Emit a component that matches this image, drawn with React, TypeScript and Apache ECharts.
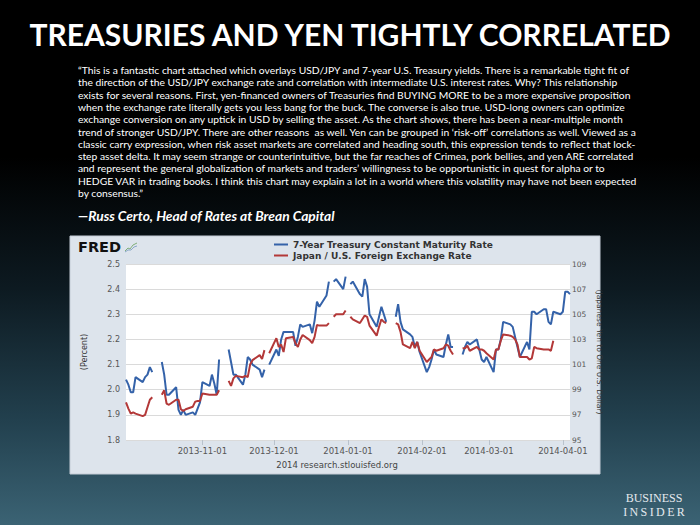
import React, { useEffect, useRef } from 'react';
import * as echarts from 'echarts';

// Business days (holidays kept with null values so the lines break like FRED's)
const dates = [
  '2013-09-30',
  '2013-10-01', '2013-10-02', '2013-10-03', '2013-10-04',
  '2013-10-07', '2013-10-08', '2013-10-09', '2013-10-10', '2013-10-11',
  '2013-10-14', '2013-10-15', '2013-10-16', '2013-10-17', '2013-10-18',
  '2013-10-21', '2013-10-22', '2013-10-23', '2013-10-24', '2013-10-25',
  '2013-10-28', '2013-10-29', '2013-10-30', '2013-10-31',
  '2013-11-01',
  '2013-11-04', '2013-11-05', '2013-11-06', '2013-11-07', '2013-11-08',
  '2013-11-11', '2013-11-12', '2013-11-13', '2013-11-14', '2013-11-15',
  '2013-11-18', '2013-11-19', '2013-11-20', '2013-11-21', '2013-11-22',
  '2013-11-25', '2013-11-26', '2013-11-27', '2013-11-28', '2013-11-29',
  '2013-12-02', '2013-12-03', '2013-12-04', '2013-12-05', '2013-12-06',
  '2013-12-09', '2013-12-10', '2013-12-11', '2013-12-12', '2013-12-13',
  '2013-12-16', '2013-12-17', '2013-12-18', '2013-12-19', '2013-12-20',
  '2013-12-23', '2013-12-24', '2013-12-25', '2013-12-26', '2013-12-27',
  '2013-12-30', '2013-12-31',
  '2014-01-01', '2014-01-02', '2014-01-03',
  '2014-01-06', '2014-01-07', '2014-01-08', '2014-01-09', '2014-01-10',
  '2014-01-13', '2014-01-14', '2014-01-15', '2014-01-16', '2014-01-17',
  '2014-01-20', '2014-01-21', '2014-01-22', '2014-01-23', '2014-01-24',
  '2014-01-27', '2014-01-28', '2014-01-29', '2014-01-30', '2014-01-31',
  '2014-02-03', '2014-02-04', '2014-02-05', '2014-02-06', '2014-02-07',
  '2014-02-10', '2014-02-11', '2014-02-12', '2014-02-13', '2014-02-14',
  '2014-02-17', '2014-02-18', '2014-02-19', '2014-02-20', '2014-02-21',
  '2014-02-24', '2014-02-25', '2014-02-26', '2014-02-27', '2014-02-28',
  '2014-03-03', '2014-03-04', '2014-03-05', '2014-03-06', '2014-03-07',
  '2014-03-10', '2014-03-11', '2014-03-12', '2014-03-13', '2014-03-14',
  '2014-03-17', '2014-03-18', '2014-03-19', '2014-03-20', '2014-03-21',
  '2014-03-24', '2014-03-25', '2014-03-26', '2014-03-27', '2014-03-28',
  '2014-03-31',
  '2014-04-01', '2014-04-02', '2014-04-03', '2014-04-04',
];

// 7-Year Treasury Constant Maturity Rate (percent)
const treasury7y = [
  2.04,
  2.02, 1.99, 1.99, 2.05,
  2.03, 2.05, 2.06, 2.09, 2.07,
  null, 2.11, 2.06, 1.98, 1.98,
  2.01, 1.92, 1.90, 1.92, 1.90,
  1.91, 1.90, 1.925, 1.95,
  2.03,
  2.015, 2.06, 2.025, 1.98, 2.12,
  null, 2.16, 2.11, 2.06, 2.06,
  2.02, 2.06, 2.13, 2.12, 2.10,
  2.08, 2.05, 2.08, null, 2.10,
  2.16, 2.135, 2.20, 2.23, 2.23,
  2.23, 2.175, 2.21, 2.26, 2.25,
  2.26, 2.225, 2.275, 2.35, 2.33,
  2.375, 2.43, null, 2.43, 2.44,
  2.40, 2.45,
  null, 2.42, 2.43,
  2.38, 2.37, 2.44, 2.41, 2.30,
  2.25, 2.29, 2.33, 2.30, 2.27,
  null, 2.29, 2.34, 2.27, 2.24,
  2.22, 2.21, 2.17, 2.19, 2.15,
  2.07, 2.09, 2.12, 2.16, 2.14,
  2.13, 2.18, 2.22, 2.17, 2.17,
  null, 2.14, 2.17, 2.19, 2.18,
  2.20, 2.16, 2.12, 2.11, 2.13,
  2.07, 2.16, 2.16, 2.20, 2.27,
  2.26, 2.25, 2.21, 2.17, 2.13,
  2.19, 2.16, 2.31, 2.31, 2.30,
  2.32, 2.32, 2.27, 2.26, 2.31,
  2.30,
  2.31, 2.39, 2.39, 2.38,
];

// Japan / U.S. Foreign Exchange Rate (yen per dollar)
const usdJpy = [
  98.0,
  97.5, 97.1, 97.2, 97.1,
  96.9, 97.0, 97.6, 98.2, 98.4,
  null, 98.6, 98.95, 97.9, 97.8,
  98.2, 98.2, 97.45, 97.3, 97.45,
  97.65, 98.05, 98.1, 98.1,
  98.7,
  98.6, 98.6, 98.6, 98.6, 98.95,
  null, 99.7, 99.3, 99.9, 100.1,
  100.0, 100.1, 100.0, 101.0, 101.35,
  101.75, 101.45, 102.15, null, 101.9,
  103.1, 102.4, 102.6, 102.0, 103.1,
  103.2, 102.7, 102.4, 103.0, 103.35,
  102.95, 102.7, 103.2, 104.15, 104.1,
  104.1, 104.3, null, 104.8, 105.0,
  105.0, 105.3,
  null, 104.8, 104.6,
  104.3, 104.6, 104.9, 104.8, 104.1,
  103.3, 104.0, 104.6, 104.4, 104.3,
  null, 104.3, 104.2, 103.6, 102.6,
  102.3, 102.8, 102.3, 102.8, 102.1,
  101.2, 101.4, 101.6, 102.2, 102.1,
  102.3, 102.6, 102.5, 102.1, 101.8,
  null, 102.3, 102.3, 102.5, 102.1,
  102.4, 102.2, 102.2, 102.1, 101.9,
  101.4, 102.2, 102.2, 102.9, 103.4,
  103.3, 103.2, 103.0, 102.6, 101.6,
  101.6, 101.4, 101.5, 102.4, 102.3,
  102.2, 102.2, 102.2, 102.1, 102.9,
  null,
  null, null, null, null,
];

const monthTicks = ['2013-11-01', '2013-12-01', '2014-01-01', '2014-02-01', '2014-03-01', '2014-04-01'];
const xStart = '2013-09-30';
const xEnd = '2014-04-04';

const seriesNames = ['7-Year Treasury Constant Maturity Rate', 'Japan / U.S. Foreign Exchange Rate'];

const quoteLines = [
  '\u201CThis is a fantastic chart attached which overlays USD/JPY and 7-year U.S. Treasury yields. There is a remarkable tight fit of',
  'the direction of the USD/JPY exchange rate and correlation with intermediate U.S. interest rates. Why? This relationship',
  'exists for several reasons. First, yen-financed owners of Treasuries find BUYING MORE to be a more expensive proposition',
  'when the exchange rate literally gets you less bang for the buck. The converse is also true. USD-long owners can optimize',
  'exchange conversion on any uptick in USD by selling the asset. As the chart shows, there has been a near-multiple month',
  'trend of stronger USD/JPY. There are other reasons  as well. Yen can be grouped in \u2018risk-off\u2019 correlations as well. Viewed as a',
  'classic carry expression, when risk asset markets are correlated and heading south, this expression tends to reflect that lock-',
  'step asset delta. It may seem strange or counterintuitive, but the far reaches of Crimea, pork bellies, and yen ARE correlated',
  'and represent the general globalization of markets and traders\u2019 willingness to be opportunistic in quest for alpha or to',
  'HEDGE VAR in trading books. I think this chart may explain a lot in a world where this volatility may have not been expected',
  'by consensus.\u201D',
];

const ts = (s: string) => {
  const [y, m, d] = s.split('-').map(Number);
  return new Date(y, m - 1, d).getTime();
};
const pad = (n: number) => (n < 10 ? '0' + n : '' + n);
const fmtDate = (v: number) => {
  const d = new Date(v);
  return d.getFullYear() + '-' + pad(d.getMonth() + 1) + '-' + pad(d.getDate());
};

export default function App() {
  const ref = useRef<HTMLDivElement>(null);
  useEffect(() => {
    if (!ref.current) return;
    const chart = echarts.init(ref.current, null, { renderer: 'svg' });
    const axisFont = 'DejaVu Sans, Verdana, sans-serif';
    const quoteGraphics = quoteLines.map((line, i) => ({
      type: 'text',
      x: 78,
      y: 70 + i * 12.3,
      z: 10,
      style: {
        text: line,
        fill: '#ffffff',
        font: '10.3px Lato, "Open Sans", sans-serif',
        textVerticalAlign: 'middle',
      },
    }));
    const tickValues = monthTicks.map(ts);
    chart.setOption({
      animation: false,
      backgroundColor: 'transparent',
      graphic: [
        {
          type: 'rect',
          z: -10,
          shape: { x: 70, y: 236, width: 530, height: 238 },
          style: { fill: '#dde4ec', stroke: '#c4ccd6', lineWidth: 1 },
        },
        {
          type: 'text',
          x: 350,
          y: 34,
          z: 10,
          style: {
            text: 'TREASURIES AND YEN TIGHTLY CORRELATED',
            fill: '#ffffff',
            font: 'bold 30px Lato, "Open Sans", sans-serif',
            textAlign: 'center',
            textVerticalAlign: 'middle',
          },
        },
        ...quoteGraphics,
        {
          type: 'text',
          x: 78,
          y: 215,
          z: 10,
          style: {
            text: '\u2014Russ Certo, Head of Rates at Brean Capital',
            fill: '#ffffff',
            font: 'italic bold 13.8px Lato, "Open Sans", sans-serif',
            textVerticalAlign: 'middle',
          },
        },
        {
          type: 'text',
          x: 78,
          y: 247,
          z: 10,
          style: {
            text: 'FRED',
            fill: '#111111',
            font: '900 14.5px "DejaVu Sans", sans-serif',
            textVerticalAlign: 'middle',
          },
        },
        {
          type: 'polyline',
          z: 10,
          shape: { points: [[125, 251], [128, 248], [130, 249], [133, 245], [137, 243]] },
          style: { stroke: '#7fae7a', lineWidth: 1, fill: 'none' },
        },
        {
          type: 'polyline',
          z: 10,
          shape: { points: [[125, 252], [128, 250], [131, 250], [134, 247], [137, 246]] },
          style: { stroke: '#8aa6c8', lineWidth: 1, fill: 'none' },
        },
        {
          type: 'text',
          x: 337,
          y: 465,
          z: 10,
          style: {
            text: '2014 research.stlouisfed.org',
            fill: '#444444',
            font: '8.5px "DejaVu Sans", sans-serif',
            textAlign: 'center',
            textVerticalAlign: 'middle',
          },
        },
        {
          type: 'text',
          x: 654,
          y: 498,
          z: 10,
          style: {
            text: 'BUSINESS',
            fill: '#e4e9ee',
            font: '12px "Liberation Serif", "DejaVu Serif", serif',
            textAlign: 'center',
            textVerticalAlign: 'middle',
          },
        },
        {
          type: 'text',
          x: 654,
          y: 512,
          z: 10,
          style: {
            text: 'I\u2009N\u2009S\u2009I\u2009D\u2009E\u2009R',
            fill: '#e4e9ee',
            font: '12px "Liberation Serif", "DejaVu Serif", serif',
            textAlign: 'center',
            textVerticalAlign: 'middle',
          },
        },
      ],
      legend: {
        orient: 'vertical',
        left: 274,
        top: 240,
        itemWidth: 14,
        itemHeight: 2,
        itemGap: 2,
        padding: 0,
        icon: 'rect',
        data: seriesNames,
        textStyle: { fontSize: 9, fontWeight: 'bold', fontFamily: axisFont, color: '#333333', padding: [0, 0, 0, 0] },
      },
      grid: {
        left: 126,
        top: 264,
        width: 444,
        height: 176,
        show: true,
        backgroundColor: '#ffffff',
        borderWidth: 0,
      },
      xAxis: {
        type: 'value',
        min: ts(xStart),
        max: ts(xEnd),
        axisLine: { show: false },
        axisTick: {
          show: true,
          length: 5,
          customValues: tickValues,
          lineStyle: { color: '#b9c2cc' },
        },
        axisLabel: {
          customValues: tickValues,
          formatter: (v: number) => fmtDate(v),
          fontSize: 8.5,
          fontFamily: axisFont,
          color: '#555555',
          margin: 6,
        },
        splitLine: { show: false },
      },
      yAxis: [
        {
          type: 'value',
          min: 1.8,
          max: 2.5,
          interval: 0.1,
          name: '(Percent)',
          nameLocation: 'middle',
          nameGap: 38,
          nameMoveOverlap: false,
          nameTextStyle: { fontSize: 8, fontFamily: axisFont, color: '#333333' },
          axisLine: { show: false },
          axisTick: { show: false },
          axisLabel: {
            formatter: (v: number) => v.toFixed(1),
            fontSize: 8,
            fontFamily: axisFont,
            color: '#555555',
            margin: 6,
          },
          splitLine: { show: true, lineStyle: { color: '#dadada', width: 1 } },
        },
        {
          type: 'value',
          min: 95,
          max: 109,
          interval: 2,
          position: 'right',
          name: '(Japanese Yen to One U.S. Dollar)',
          nameLocation: 'middle',
          nameRotate: -90,
          nameGap: 25,
          nameMoveOverlap: false,
          nameTextStyle: { fontSize: 7.5, fontFamily: axisFont, color: '#333333' },
          axisLine: { show: false },
          axisTick: { show: false },
          axisLabel: { fontSize: 7.5, fontFamily: axisFont, color: '#555555', margin: 2 },
          splitLine: { show: false },
        },
      ],
      series: [
        {
          name: seriesNames[0],
          type: 'line',
          yAxisIndex: 0,
          showSymbol: false,
          connectNulls: false,
          lineStyle: { color: '#3462a9', width: 2 },
          itemStyle: { color: '#3462a9' },
          data: dates.map((d, i) => [ts(d), treasury7y[i] === null ? '-' : treasury7y[i]]),
        },
        {
          name: seriesNames[1],
          type: 'line',
          yAxisIndex: 1,
          showSymbol: false,
          connectNulls: false,
          lineStyle: { color: '#b33838', width: 2 },
          itemStyle: { color: '#b33838' },
          data: dates.map((d, i) => [ts(d), usdJpy[i] === null ? '-' : usdJpy[i]]),
        },
      ],
    });
    return () => chart.dispose();
  }, []);
  return (
    <div
      style={{
        position: 'fixed',
        left: 0,
        top: 0,
        width: 700,
        height: 525,
        background: 'linear-gradient(to bottom, #000000 0%, #000000 30%, #0d1a21 55%, #22404e 80%, #3b6374 100%)',
      }}
    >
      <div ref={ref} style={{ width: 700, height: 525 }} />
    </div>
  );
}
